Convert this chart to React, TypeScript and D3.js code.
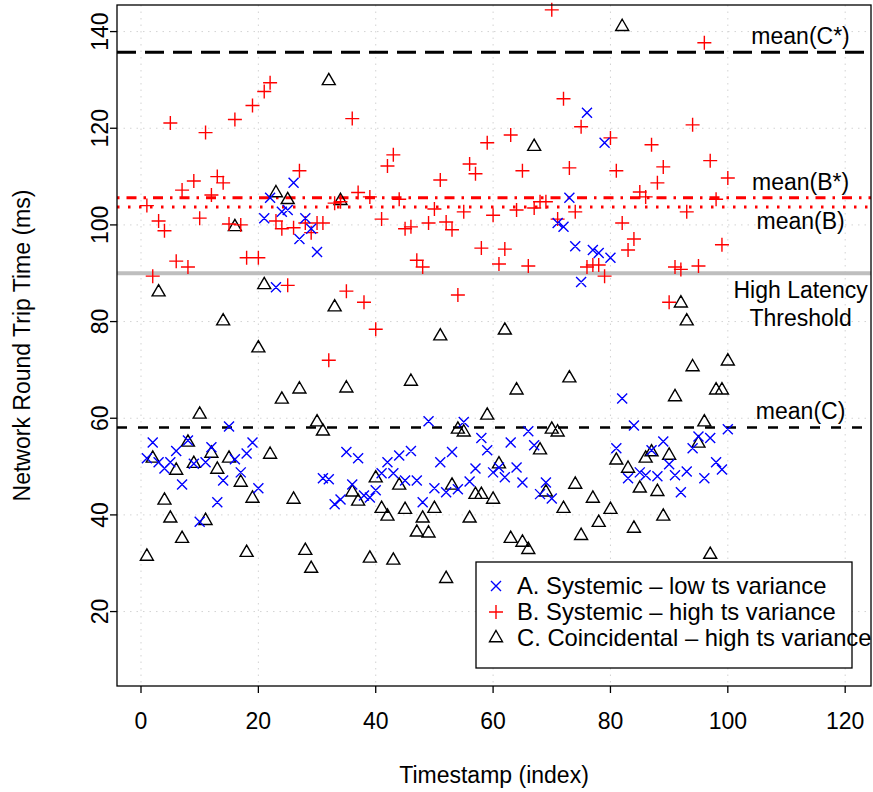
import React from "react";
import * as d3 from "d3";

// network round trip times (ms), one value per timestamp 1..100
const seriesA = [
  51.7, 55.0, 50.9, 49.6, 50.9, 53.2, 46.3, 55.4, 50.6, 38.6,
  50.9, 54.0, 42.6, 47.1, 58.3, 51.5, 48.8, 52.7, 55.0, 45.5,
  101.4, 105.6, 87.1, 102.7, 103.1, 108.7, 97.1, 101.4, 99.2, 94.4,
  47.6, 47.4, 42.2, 43.2, 53.0, 46.3, 51.7, 44.0, 43.6, 45.1,
  48.6, 50.9, 48.6, 52.3, 47.1, 53.2, 47.1, 42.6, 59.4, 45.5,
  50.9, 44.7, 53.0, 45.3, 59.2, 46.9, 49.6, 55.9, 53.4, 48.8,
  49.8, 47.8, 55.0, 49.8, 46.7, 57.3, 54.4, 44.3, 46.7, 43.4,
  100.4, 99.6, 105.6, 95.6, 88.2, 123.2, 94.8, 94.2, 117.0, 93.2,
  53.8, 64.1, 47.6, 58.5, 48.8, 48.2, 53.4, 48.0, 55.2, 50.5,
  48.2, 44.7, 49.0, 53.8, 56.2, 47.6, 55.9, 50.9, 49.4, 57.7,
];

const seriesB = [
  104.0, 89.4, 100.8, 98.8, 121.1, 92.5, 107.2, 91.3, 109.1, 101.4,
  119.1, 106.2, 110.0, 108.7, 100.2, 121.8, 100.0, 93.2, 124.7, 93.2,
  127.6, 129.4, 100.8, 99.2, 87.5, 99.4, 111.2, 100.4, 98.4, 100.4,
  100.4, 72.0, 104.5, 104.8, 86.3, 122.0, 106.7, 84.0, 105.8, 78.4,
  101.2, 112.2, 114.5, 105.3, 99.2, 99.6, 92.7, 91.3, 100.4, 103.3,
  109.3, 100.6, 99.0, 85.5, 102.7, 112.6, 110.6, 95.2, 117.0, 102.0,
  91.9, 95.0, 118.6, 103.1, 111.2, 91.5, 103.5, 104.8, 104.8, 144.5,
  101.2, 126.1, 111.8, 102.7, 120.3, 91.3, 91.7, 91.7, 89.4, 118.0,
  111.2, 100.4, 94.8, 97.1, 106.8, 105.8, 116.6, 108.7, 112.0, 84.0,
  91.3, 90.8, 102.7, 120.7, 91.5, 137.7, 113.3, 105.3, 95.9, 109.7,
];

const seriesC: (number | null)[] = [
  31.4, 51.7, 86.1, 43.0, 39.3, 49.2, 35.1, 55.0, 50.6, 60.8,
  38.8, 52.7, 49.4, 80.1, 51.7, 99.6, 46.7, 32.2, 43.4, 74.5,
  87.6, 52.5, 106.6, 63.9, 105.2, 43.2, 66.0, 32.6, 28.9, 59.2,
  57.3, 129.8, 83.0, 105.0, 66.2, 44.7, 42.8, null, 31.0, 47.6,
  41.3, 39.7, 30.6, 46.1, 41.1, 67.6, 36.4, 39.3, 36.2, 41.3,
  77.0, 26.8, 46.1, 57.7, 57.1, 39.3, 44.2, 44.2, 60.6, 43.2,
  50.5, 78.2, 35.1, 65.8, 34.3, 32.8, 116.2, 53.4, 44.7, 57.7,
  57.1, 41.3, 68.3, 46.3, 35.7, null, 43.4, 38.4, null, 41.1,
  51.3, 141.0, 49.6, 37.2, 45.5, 51.7, 53.0, 44.8, 39.7, 52.3,
  64.4, 83.8, 80.1, 70.6, 54.8, 59.2, 31.8, 65.8, 65.8, 71.8,
];

const xTicks = [0, 20, 40, 60, 80, 100, 120];
const yTicks = [20, 40, 60, 80, 100, 120, 140];

const legendLabels = [
  "A. Systemic \u2013 low ts variance",
  "B. Systemic \u2013 high ts variance",
  "C. Coincidental \u2013 high ts variance",
];

const meanCStar = 135.7;
const meanBStar = 105.6;
const meanB = 103.7;
const threshold = 90;
const meanC = 58.1;

const FONT = "'Liberation Sans', Arial, Helvetica, sans-serif";
const FS = 23;

const crossPath = (x: number, y: number, r = 5) =>
  `M${x - r},${y - r}L${x + r},${y + r}M${x - r},${y + r}L${x + r},${y - r}`;
const plusPath = (x: number, y: number, r = 7) =>
  `M${x - r},${y}L${x + r},${y}M${x},${y - r}L${x},${y + r}`;
const triPath = (x: number, y: number, r = 7.5) =>
  `M${x},${y - r}L${x + 0.866 * r},${y + r / 2}L${x - 0.866 * r},${y + r / 2}Z`;

const App = () => {
  const left = 117, right = 871, top = 5, bottom = 686;
  const x = d3.scaleLinear().domain([-4.09, 124.4]).range([left, right]);
  const y = d3.scaleLinear().domain([4.6, 145.5]).range([bottom, top]);
  const labelX = x(112.4);

  return (
    <svg width={873} height={792} style={{ position: "absolute", left: 0, top: 0 }} fontFamily={FONT}>
      <rect x={0} y={0} width={873} height={792} fill="white" />
      {/* grid */}
      {xTicks.map((t) => (
        <line key={"gx" + t} x1={x(t)} x2={x(t)} y1={top} y2={bottom}
          stroke="#d3d3d3" strokeWidth={1} strokeDasharray="1.5,5" />
      ))}
      {yTicks.map((t) => (
        <line key={"gy" + t} x1={left} x2={right} y1={y(t)} y2={y(t)}
          stroke="#d3d3d3" strokeWidth={1} strokeDasharray="1.5,5" />
      ))}

      {/* reference lines */}
      <line x1={left} x2={right} y1={y(threshold)} y2={y(threshold)} stroke="#bebebe" strokeWidth={4} />
      <line x1={left} x2={right} y1={y(meanCStar)} y2={y(meanCStar)} stroke="black" strokeWidth={3} strokeDasharray="19,9" />
      <line x1={left} x2={right} y1={y(meanBStar)} y2={y(meanBStar)} stroke="red" strokeWidth={3} strokeDasharray="2.5,7,10,7" />
      <line x1={left} x2={right} y1={y(meanB)} y2={y(meanB)} stroke="red" strokeWidth={3} strokeDasharray="2.5,8.5" />
      <line x1={left} x2={right} y1={y(meanC)} y2={y(meanC)} stroke="black" strokeWidth={2.5} strokeDasharray="10,11" />

      {/* points */}
      <path d={seriesC.map((v, i) => (v == null ? "" : triPath(x(i + 1), y(v)))).join("")}
        fill="none" stroke="black" strokeWidth={1.4} />
      <path d={seriesB.map((v, i) => plusPath(x(i + 1), y(v))).join("")}
        fill="none" stroke="red" strokeWidth={1.4} />
      <path d={seriesA.map((v, i) => crossPath(x(i + 1), y(v))).join("")}
        fill="none" stroke="blue" strokeWidth={1.4} />

      {/* line labels */}
      <g fontSize={FS} textAnchor="middle" fill="black">
        <text x={labelX} y={y(meanCStar) - 8}>mean(C*)</text>
        <text x={labelX} y={y(meanBStar) - 8}>mean(B*)</text>
        <text x={labelX} y={y(meanB) + 22}>mean(B)</text>
        <text x={labelX} y={y(threshold) + 25}>High Latency</text>
        <text x={labelX} y={y(threshold) + 53}>Threshold</text>
        <text x={labelX} y={y(meanC) - 8}>mean(C)</text>
      </g>

      {/* box */}
      <rect x={left} y={top} width={right - left} height={bottom - top} fill="none" stroke="black" strokeWidth={1.3} />

      {/* x axis */}
      {xTicks.map((t) => (
        <g key={"xt" + t}>
          <line x1={x(t)} x2={x(t)} y1={bottom} y2={bottom + 7} stroke="black" strokeWidth={1.3} />
          <text x={x(t)} y={729} fontSize={FS} textAnchor="middle">{t}</text>
        </g>
      ))}
      {/* y axis */}
      {yTicks.map((t) => (
        <g key={"yt" + t}>
          <line x1={left - 7} x2={left} y1={y(t)} y2={y(t)} stroke="black" strokeWidth={1.3} />
          <text transform={`translate(108,${y(t)}) rotate(-90)`} fontSize={FS} textAnchor="middle">{t}</text>
        </g>
      ))}
      <text x={(left + right) / 2} y={783} fontSize={FS} textAnchor="middle">Timestamp (index)</text>
      <text transform={`translate(30,${(top + bottom) / 2}) rotate(-90)`} fontSize={FS} textAnchor="middle">
        Network Round Trip Time (ms)
      </text>

      {/* legend */}
      <rect x={476} y={562} width={376} height={106} fill="white" stroke="black" strokeWidth={1.3} />
      {legendLabels.map((lab, i) => {
        const cy = 586 + i * 26;
        const d = i === 0 ? crossPath(496, cy) : i === 1 ? plusPath(496, cy) : triPath(496, cy);
        const c = i === 0 ? "blue" : i === 1 ? "red" : "black";
        return (
          <g key={lab}>
            <path d={d} fill="none" stroke={c} strokeWidth={1.4} />
            <text x={517} y={cy + 8} fontSize={23.8}>{lab}</text>
          </g>
        );
      })}
    </svg>
  );
};

export default App;
